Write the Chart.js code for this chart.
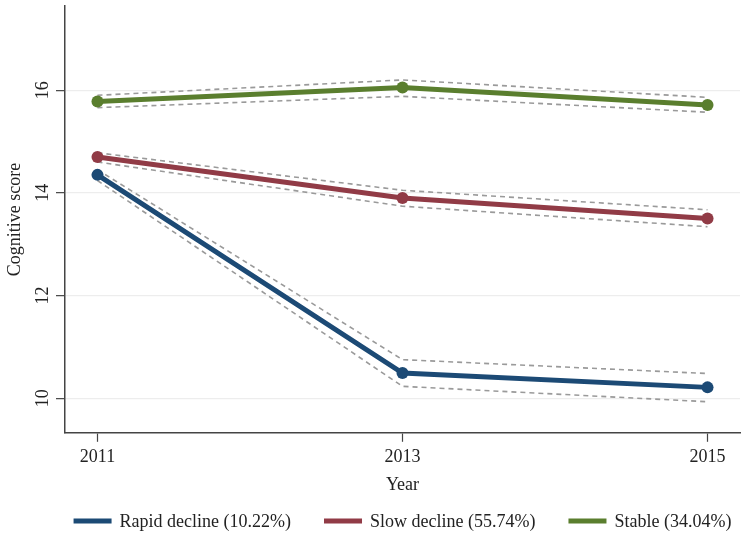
<!DOCTYPE html>
<html>
<head>
<meta charset="utf-8">
<title>Cognitive score trajectories</title>
<script src="https://cdn.jsdelivr.net/npm/chart.js@4.4.1/dist/chart.umd.min.js"></script>
<style>
  html, body { margin: 0; padding: 0; background: #fff; }
  #wrap { width: 746px; height: 543px; position: relative; }
</style>
</head>
<body>
<div id="wrap"><canvas id="trajChart"></canvas></div>
<script>
// values
const years = [2011, 2013, 2015];
const yTicks = [10, 12, 14, 16];

const rapid = [14.35, 10.49, 10.21];
const rapidUpper = [14.45, 10.75, 10.48];
const rapidLower = [14.24, 10.23, 9.93];

const slow = [14.70, 13.90, 13.50];
const slowUpper = [14.78, 14.05, 13.67];
const slowLower = [14.60, 13.74, 13.34];

const stable = [15.78, 16.05, 15.71];
const stableUpper = [15.90, 16.20, 15.86];
const stableLower = [15.66, 15.88, 15.57];

const labels = ['Rapid decline (10.22%)', 'Slow decline (55.74%)', 'Stable (34.04%)'];

const serif = "'Liberation Serif', 'Times New Roman', serif";
const fontPx = 18;
const colBlue = '#1c4a75';
const colRed = '#913b46';
const colGreen = '#5a7e2e';

function pts(vals) {
    return vals.map((v, i) => ({ x: years[i], y: v }));
}

function mainLine(label, vals, color) {
    return {
        label: label,
        data: pts(vals),
        borderColor: color,
        backgroundColor: color,
        borderWidth: 5,
        pointRadius: 6,
        pointBackgroundColor: color,
        pointBorderWidth: 0,
        tension: 0,
        order: 1
    };
}

function ciLine(vals) {
    return {
        label: 'ci',
        data: pts(vals),
        borderColor: '#9a9a9a',
        borderWidth: 1.6,
        borderDash: [5, 4],
        pointRadius: 0,
        tension: 0,
        order: 2
    };
}

// rotated y tick labels, like the original
const yLabelPlugin = {
    id: 'yLabels',
    afterDraw(chart) {
        const ctx = chart.ctx;
        const sc = chart.scales.y;
        ctx.save();
        ctx.fillStyle = '#222';
        ctx.font = fontPx + 'px ' + serif;
        ctx.textAlign = 'center';
        ctx.textBaseline = 'middle';
        yTicks.forEach(v => {
            const y = sc.getPixelForValue(v);
            ctx.save();
            ctx.translate(43, y);
            ctx.rotate(-Math.PI / 2);
            ctx.fillText(String(v), 0, 0);
            ctx.restore();
        });
        ctx.restore();
    }
};

// legend row centred under the plot area
const legendPlugin = {
    id: 'bottomLegend',
    afterDraw(chart) {
        const ctx = chart.ctx;
        const area = chart.chartArea;
        const boxW = 38, boxH = 5, textGap = 8, itemGap = 33;
        const items = chart.data.datasets.filter(d => d.label !== 'ci');
        ctx.save();
        ctx.font = fontPx + 'px ' + serif;
        const widths = items.map(d => boxW + textGap + ctx.measureText(d.label).width);
        const total = widths.reduce((a, b) => a + b, 0) + itemGap * (items.length - 1);
        let x = (area.left + area.right) / 2 - total / 2;
        const y = 521;
        ctx.textBaseline = 'middle';
        ctx.textAlign = 'left';
        items.forEach((d, i) => {
            ctx.fillStyle = d.borderColor;
            ctx.fillRect(x, y - boxH / 2, boxW, boxH);
            ctx.fillStyle = '#222';
            ctx.fillText(d.label, x + boxW + textGap, y + 1);
            x += widths[i] + itemGap;
        });
        ctx.restore();
    }
};

const ctx = document.getElementById('trajChart').getContext('2d');
const chart = new Chart(ctx, {
    type: 'line',
    data: {
        datasets: [
            mainLine(labels[0], rapid, colBlue),
            mainLine(labels[1], slow, colRed),
            mainLine(labels[2], stable, colGreen),
            ciLine(rapidUpper), ciLine(rapidLower),
            ciLine(slowUpper), ciLine(slowLower),
            ciLine(stableUpper), ciLine(stableLower)
        ]
    },
    options: {
        responsive: true,
        maintainAspectRatio: false,
        animation: false,
        layout: { padding: { top: 1, right: 1, left: 0, bottom: 43 } },
        plugins: {
            tooltip: { enabled: false },
            legend: { display: false }
        },
        scales: {
            x: {
                type: 'linear',
                min: 2010.787,
                max: 2015.213,
                afterBuildTicks: s => { s.ticks = years.map(v => ({ value: v })); },
                ticks: {
                    color: '#222',
                    padding: 5,
                    font: { family: serif, size: fontPx },
                    callback: v => String(v)
                },
                grid: { drawOnChartArea: false, tickLength: 9, tickColor: '#444', tickWidth: 1.2 },
                border: { color: '#444', width: 1.5 },
                title: {
                    display: true,
                    text: 'Year',
                    color: '#222',
                    font: { family: serif, size: fontPx },
                    padding: { top: 1, bottom: 4 }
                }
            },
            y: {
                min: 9.325,
                max: 17.64,
                afterBuildTicks: s => { s.ticks = yTicks.map(v => ({ value: v })); },
                afterFit: s => { s.width = 65; },
                ticks: { display: false },
                grid: { color: '#ededed', lineWidth: 1.3, tickLength: 9, tickColor: '#444', tickWidth: 1.2 },
                border: { color: '#444', width: 1.5 },
                title: {
                    display: true,
                    text: 'Cognitive score',
                    color: '#222',
                    font: { family: serif, size: fontPx },
                    padding: { top: 4, bottom: 4 }
                }
            }
        }
    },
    plugins: [yLabelPlugin, legendPlugin]
});
</script>
</body>
</html>
